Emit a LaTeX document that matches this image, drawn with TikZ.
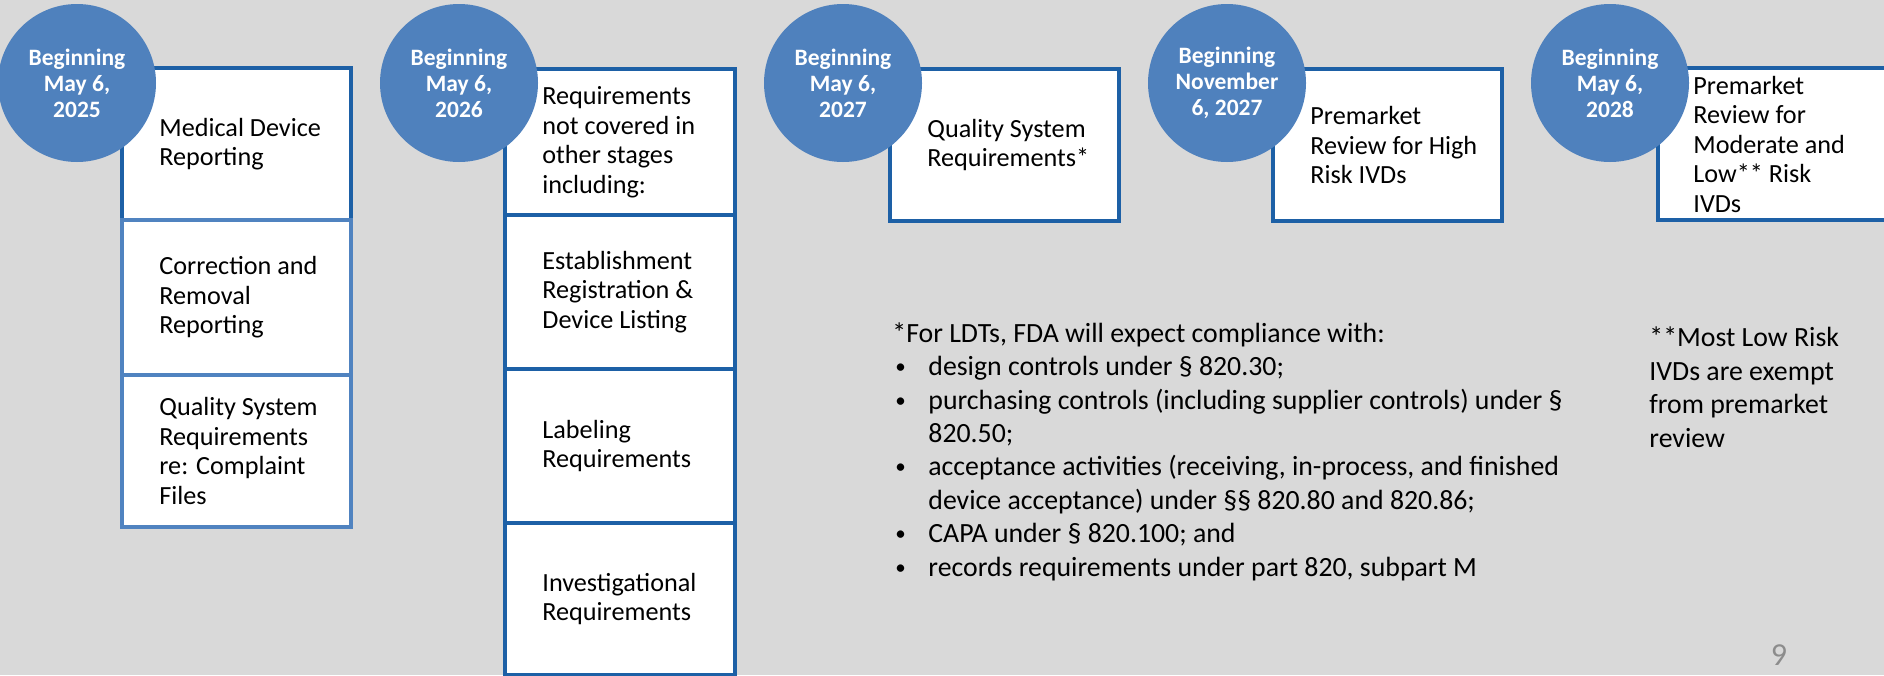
\documentclass[tikz,border=0pt]{standalone}
\usepackage{fontspec}
\setmainfont{Carlito}
\definecolor{bg}{HTML}{D9D9D9}
\definecolor{circ}{HTML}{4F81BD}
\definecolor{darkb}{HTML}{1D60A6}
\definecolor{lightb}{HTML}{5083C0}
\definecolor{pg}{HTML}{8C8C8C}
\newcommand\fnbul{\hspace*{1.5pt}\makebox[16.5pt][l]{\raisebox{1pt}{\fontsize{10.5pt}{10.5pt}\selectfont•}}}
\newcommand\fnind{\hspace*{18pt}}
\tikzset{
 stagebox/.style={draw=darkb, fill=white, line width=2.25pt, rectangle, inner sep=0pt, minimum width=114.5pt},
 lightbox/.style={stagebox, draw=lightb},
 datecirc/.style={circle, fill=circ, inner sep=0pt, minimum size=79pt, text=white, font=\bfseries\fontsize{11.75pt}{13pt}\selectfont, align=center},
 boxtext/.style={anchor=west, inner sep=0pt, align=left, font=\fontsize{13.1pt}{14.75pt}\selectfont},
 notetext/.style={anchor=base west, inner sep=0pt, align=left, font=\fontsize{13.9pt}{16.7pt}\selectfont},
}
\begin{document}
\begin{tikzpicture}[x=0.5pt,y=-0.5pt]
\useasboundingbox (0,0) rectangle (1884,675);
\fill[bg] (0,0) rectangle (1884,675);
\clip (0,0) rectangle (1884,675);
% column 1
\node[stagebox, minimum height=76pt] (b11) at (236.5,144) {};
\node[lightbox, minimum height=77.5pt] (b12) at (236.5,297.5) {};
\node[lightbox, minimum height=76pt] (b13) at (236.5,451) {};
% column 2
\node[stagebox, minimum width=115pt, minimum height=73pt] (b21) at (620,142) {};
\node[stagebox, minimum width=115pt, minimum height=77pt] (b22) at (620,292) {};
\node[stagebox, minimum width=115pt, minimum height=77pt] (b23) at (620,446) {};
\node[stagebox, minimum width=115pt, minimum height=76pt] (b24) at (620,599) {};
% columns 3-5
\node[stagebox, minimum height=76pt] (b31) at (1004.5,145) {};
\node[stagebox, minimum height=76pt] (b41) at (1387.5,145) {};
\node[stagebox, minimum height=76pt] (b51) at (1772.5,144) {};
% circles
\node[datecirc] (c1) at (77,83) {Beginning\\May 6,\\2025};
\node[datecirc] (c2) at (459,83) {Beginning\\May 6,\\2026};
\node[datecirc] (c3) at (843,83) {Beginning\\May 6,\\2027};
\node[datecirc] (c4) at (1227,83) {Beginning\\November\\6, 2027};
\node[datecirc] (c5) at (1610,83) {Beginning\\May 6,\\2028};
% box texts
\node[boxtext] (t11) at (159,144) {Medical Device\\Reporting};
\node[boxtext] (t12) at (159,297.5) {Correction and\\Removal\\Reporting};
\node[boxtext] (t13) at (159,451) {Quality System\\Requirements\\re: Complaint\\Files};
\node[boxtext] (t21) at (542,142) {Requirements\\not covered in\\other stages\\including:};
\node[boxtext] (t22) at (542,292) {Establishment\\Registration \&\\Device Listing};
\node[boxtext] (t23) at (542,446) {Labeling\\Requirements};
\node[boxtext] (t24) at (542,599) {Investigational\\Requirements};
\node[boxtext] (t31) at (927,145) {Quality System\\Requirements*};
\node[boxtext] (t41) at (1310,145) {Premarket\\Review for High\\Risk IVDs};
\node[boxtext] (t51) at (1693,144) {Premarket\\Review for\\Moderate and\\Low** Risk\\IVDs};
% notes (base anchor = baseline of last line)
\node[notetext] (fn1) at (892,576) {*For LDTs, FDA will expect compliance with:\\
\fnbul design controls under § 820.30;\\
\fnbul purchasing controls (including supplier controls) under §\\
\fnind 820.50;\\
\fnbul acceptance activities (receiving, in-process, and finished\\
\fnind device acceptance) under §§ 820.80 and 820.86;\\
\fnbul CAPA under § 820.100; and\\
\fnbul records requirements under part 820, subpart M};
\node[notetext] (fn2) at (1649,447) {**Most Low Risk\\IVDs are exempt\\from premarket\\review};
\node[text=pg, inner sep=0pt, font=\fontsize{16pt}{19pt}\selectfont] (pnum) at (1779,655) {9};
\end{tikzpicture}
\end{document}
